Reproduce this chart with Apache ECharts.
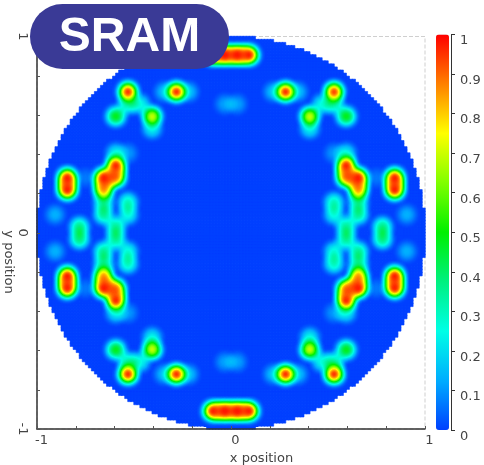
<!DOCTYPE html>
<html><head><meta charset="utf-8">
<style>html,body{margin:0;padding:0;background:#fff}#c{width:484px;height:465px}</style>
<script src="https://cdn.jsdelivr.net/npm/echarts@6/dist/echarts.min.js"></script>
</head><body><div id="c"></div>
<script>
// Measured hot spots: [column, row, value]; column and row count the 0.0625-wide die grid from the centre
const topBar = [[-1.5,14.5,1],[-1,14.5,.6],[-0.5,14.5,1],[0,14.5,.6],[0.5,14.5,1],[1,14.5,.6],[1.5,14.5,1]];
const bottomBar = [[-1.5,-14.5,1],[-1,-14.5,.6],[-0.5,-14.5,1],[0,-14.5,.6],[0.5,-14.5,1],[1,-14.5,.6],[1.5,-14.5,1]];
const upperLeft = [
 [-8.5,11.5,1],[-8.5,10.5,.32],[-7.5,10.5,.26],[-9.5,9.5,.5],[-6.5,9.5,.72],[-6.5,8.5,.24],
 [-4.5,11.5,1],[-5.5,11.5,.17],[-3.5,11.5,.17],[-0.5,10.5,.12],
 [-13.5,4.5,1],[-13.5,4,.6],[-13.5,3.5,1],[-9.5,5.5,1],[-9.5,5,.45],[-9.5,4.5,.82],[-10,4.5,.45],[-10.5,4.5,1],[-10.5,4,.45],[-10.5,3.5,.82],
 [-9.5,6.5,.24],[-8.5,6.5,.11],[-12,4.5,.07],[-10.5,2.5,.33],[-10.5,1.5,.36],[-8.5,2.5,.31],[-8.5,1.5,.27],
 [-14.5,1.5,.14],[-12.5,0.5,.38],[-9.5,0.5,.36]
];
const upperRight = [
 [8.5,11.5,.98],[8.5,10.5,.32],[7.5,10.5,.26],[9.5,9.5,.5],[6.5,9.5,.72],[6.5,8.5,.24],
 [4.5,11.5,1],[5.5,11.5,.17],[3.5,11.5,.17],[0.5,10.5,.12],
 [13.5,4.5,1],[13.5,4,.6],[13.5,3.5,1],[9.5,5.5,1],[9.5,5,.45],[9.5,4.5,.82],[10,4.5,.45],[10.5,4.5,1],[10.5,4,.45],[10.5,3.5,.82],
 [9.5,6.5,.24],[8.5,6.5,.11],[12,4.5,.07],[10.5,2.5,.33],[10.5,1.5,.36],[8.5,2.5,.31],[8.5,1.5,.27],
 [14.5,1.5,.14],[12.5,0.5,.38],[9.5,0.5,.36]
];
const lowerLeft = [
 [-8.5,-11.5,1],[-8.5,-10.5,.32],[-7.5,-10.5,.26],[-9.5,-9.5,.5],[-6.5,-9.5,.72],[-6.5,-8.5,.24],
 [-4.5,-11.5,1],[-5.5,-11.5,.17],[-3.5,-11.5,.17],[-0.5,-10.5,.12],
 [-13.5,-4.5,1],[-13.5,-4,.6],[-13.5,-3.5,1],[-9.5,-5.5,1],[-9.5,-5,.45],[-9.5,-4.5,.82],[-10,-4.5,.45],[-10.5,-4.5,1],[-10.5,-4,.45],[-10.5,-3.5,.82],
 [-9.5,-6.5,.24],[-8.5,-6.5,.11],[-12,-4.5,.07],[-10.5,-2.5,.33],[-10.5,-1.5,.36],[-8.5,-2.5,.31],[-8.5,-1.5,.27],
 [-14.5,-1.5,.14],[-12.5,-0.5,.38],[-9.5,-0.5,.36]
];
const lowerRight = [
 [8.5,-11.5,1],[8.5,-10.5,.32],[7.5,-10.5,.26],[9.5,-9.5,.5],[6.5,-9.5,.72],[6.5,-8.5,.24],
 [4.5,-11.5,1],[5.5,-11.5,.17],[3.5,-11.5,.17],[0.5,-10.5,.12],
 [13.5,-4.5,1],[13.5,-4,.6],[13.5,-3.5,1],[9.5,-5.5,1],[9.5,-5,.45],[9.5,-4.5,.82],[10,-4.5,.45],[10.5,-4.5,1],[10.5,-4,.45],[10.5,-3.5,.82],
 [9.5,-6.5,.24],[8.5,-6.5,.11],[12,-4.5,.07],[10.5,-2.5,.33],[10.5,-1.5,.36],[8.5,-2.5,.31],[8.5,-1.5,.27],
 [14.5,-1.5,.14],[12.5,-0.5,.38],[9.5,-0.5,.36]
];
// Half width of the disc, in fine cells, for each fine row going out from the centre
const discHalfWidth = [64,64,64,64,64,64,64,64,63,63,63,63,63,63,62,62,62,62,61,61,61,60,60,60,59,59,58,58,57,57,56,56,55,55,54,53,53,52,51,50,50,49,48,47,46,45,44,43,42,41,39,38,37,35,34,32,30,28,26,24,21,18,14,8];
const discValue = 0;
const barColors = ['#0040ff','#00adff','#00ffe6','#00f080','#00f000','#80ff00','#ffff00','#ff8000','#ff0000'];
const colorTicks = [0,0.1,0.2,0.3,0.4,0.5,0.6,0.7,0.8,0.9,1];
const axisLabelValues = [-1,0,1];
const gridPitch = 0.0625;

const fineCells = [];
for (let i=0;i<128;i++) fineCells.push(String(i));
const discData = [];
discHalfWidth.forEach((h,i)=>{
  for (let c=64-h;c<64+h;c++){
    discData.push([c,64+i,discValue]);
    discData.push([c,63-i,discValue]);
  }
});
const spotData = [].concat(topBar,bottomBar,upperLeft,upperRight,lowerLeft,lowerRight)
  .map(s=>[s[0]*gridPitch,s[1]*gridPitch,s[2]]);

echarts.registerMap('plotArea',{type:'FeatureCollection',features:[{type:'Feature',properties:{name:'area'},
  geometry:{type:'Polygon',coordinates:[[[-1,-1],[1,-1],[1,1],[-1,1],[-1,-1]]]}}]});

const FONT='"DejaVu Sans"';
const TXT='#444';
const fmt=v=>{const r=Math.round(v*100)/100;return axisLabelValues.indexOf(r)>=0?String(r):'';};
const P={l:37,t:36.5,w:388,h:392.5};
const chart=echarts.init(document.getElementById('c'),null,{renderer:'canvas'});
chart.setOption({
  animation:false,
  backgroundColor:'#fff',
  grid:[
    {left:P.l,top:P.t,width:P.w,height:P.h,outerBoundsMode:'none',containLabel:false,show:true,borderColor:'#cfcfcf',borderWidth:1,borderType:'dashed',backgroundColor:'transparent'},
    {left:450,top:34.5,width:1,height:395.5,outerBoundsMode:'none',containLabel:false}
  ],
  geo:{map:'plotArea',left:P.l,top:P.t,width:P.w,height:P.h,aspectScale:P.w/P.h,silent:true,roam:false,z:3,
    itemStyle:{areaColor:'transparent',borderWidth:0,borderColor:'transparent'},label:{show:false},emphasis:{disabled:true}},
  xAxis:[
    {type:'value',gridIndex:0,min:-1,max:1,interval:0.2,position:'bottom',z:5,
     name:'x position',nameLocation:'middle',nameGap:21,nameTextStyle:{fontFamily:FONT,fontSize:13,color:TXT,padding:[0,0,0,61]},
     axisLine:{show:true,onZero:false,lineStyle:{color:'#333',width:1.5}},
     axisTick:{show:true,inside:true,length:3,lineStyle:{color:'#555'}},
     splitLine:{show:false},
     axisLabel:{show:true,formatter:fmt,showMinLabel:true,showMaxLabel:true,fontFamily:FONT,fontSize:13,color:TXT,margin:5,padding:[0,0,0,9]}},
    {type:'value',gridIndex:1,show:false,min:0,max:1},
    {type:'category',gridIndex:0,show:false,data:fineCells}
  ],
  yAxis:[
    {type:'value',gridIndex:0,min:-1,max:1,interval:0.2,position:'left',z:5,
     axisLine:{show:true,onZero:false,lineStyle:{color:'#333',width:1.5}},
     axisTick:{show:true,inside:true,length:3,lineStyle:{color:'#555'}},
     splitLine:{show:false},
     axisLabel:{show:true,rotate:-90,formatter:fmt,showMinLabel:true,showMaxLabel:true,fontFamily:FONT,fontSize:13,color:TXT,margin:8}},
    {type:'value',gridIndex:1,min:0,max:1,interval:0.1,position:'right',
     axisLine:{show:true,onZero:false,lineStyle:{color:'#333',width:1}},
     axisTick:{show:true,length:4,lineStyle:{color:'#333'}},
     splitLine:{show:false},
     axisLabel:{show:true,formatter:v=>String(colorTicks[Math.round(v*10)]),showMinLabel:true,showMaxLabel:true,fontFamily:FONT,fontSize:13,color:TXT,margin:9,verticalAlign:'top'}},
    {type:'category',gridIndex:0,show:false,data:fineCells}
  ],
  visualMap:{type:'continuous',min:0,max:1,left:436,top:34.5,itemWidth:13,itemHeight:395.5,padding:0,
    calculable:false,showLabel:false,text:null,seriesIndex:[0,1],inRange:{color:barColors},hoverLink:false},
  series:[
    {type:'heatmap',name:'disc',coordinateSystem:'cartesian2d',xAxisIndex:2,yAxisIndex:2,data:discData,progressive:0,silent:true,z:1,
     itemStyle:{borderWidth:0.6,borderColor:barColors[0]}},
    {type:'heatmap',name:'power',coordinateSystem:'geo',geoIndex:0,data:spotData,pointSize:8.5,blurSize:7,minOpacity:1,maxOpacity:1,silent:true,z:3}
  ],
  graphic:[
    {type:'text',z:50,x:8,y:262,rotation:-Math.PI/2,style:{text:'y position',fill:TXT,font:'13px "DejaVu Sans"',textAlign:'center',textVerticalAlign:'middle'}},
    {type:'rect',z:100,shape:{x:30,y:4,width:199,height:65,r:32.5},style:{fill:'#3a3a96'}},
    {type:'text',z:101,x:129.5,y:38,style:{text:'SRAM',fill:'#fff',font:'bold 48px "Liberation Sans"',textAlign:'center',textVerticalAlign:'middle'}}
  ]
});
</script></body></html>
